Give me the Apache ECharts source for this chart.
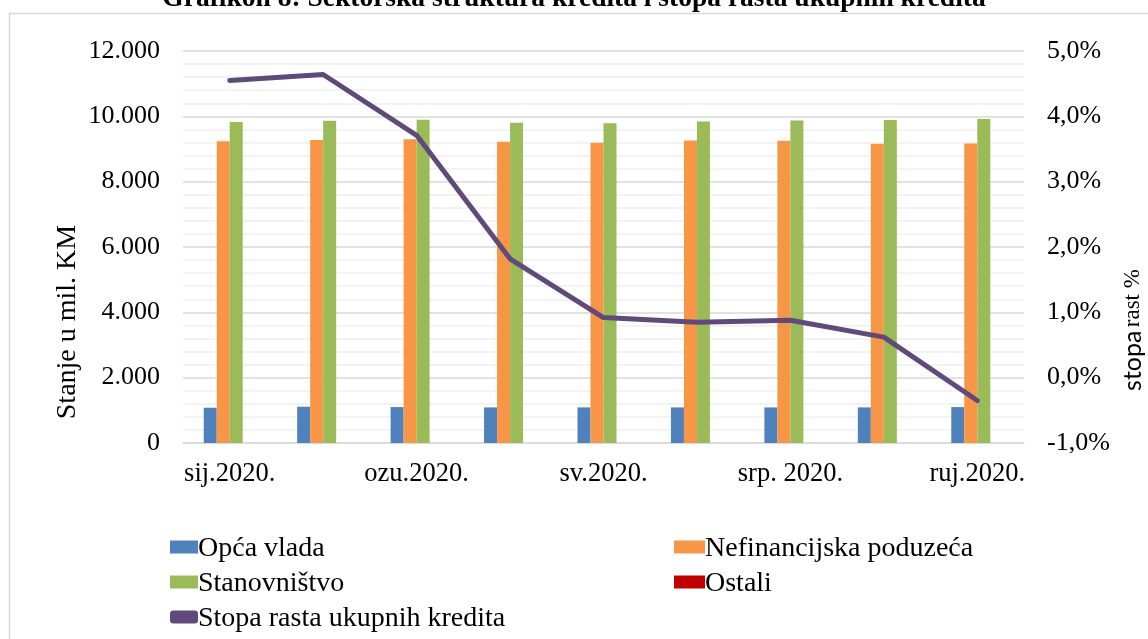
<!DOCTYPE html>
<html lang="hr">
<head>
<meta charset="utf-8" />
<title>Grafikon 8</title>
<script src="https://cdn.jsdelivr.net/npm/echarts@6/dist/echarts.min.js"></script>
<style>
  html, body { margin: 0; padding: 0; background: #fff; }
  #main { width: 1148px; height: 639px; }
</style>
</head>
<body>
<div id="main"></div>
<script>
// mjeseci (svaki drugi je prikazan na osi)
var months = ['sij.2020.', 'velj.2020.', 'ozu.2020.', 'tra.2020.', 'sv.2020.',
              'lip.2020.', 'srp. 2020.', 'kol.2020.', 'ruj.2020.'];
// stanje kredita u mil. KM
var opcaVlada = [1080, 1110, 1100, 1090, 1090, 1090, 1090, 1090, 1100];
var nefinancijska = [9240, 9275, 9300, 9220, 9190, 9260, 9255, 9160, 9165];
var stanovnistvo = [9830, 9865, 9895, 9800, 9790, 9840, 9870, 9885, 9915];
var ostali = [0, 0, 0, 0, 0, 0, 0, 0, 0];
// stopa rasta ukupnih kredita, %
var stopaRasta = [4.55, 4.64, 3.71, 1.82, 0.92, 0.85, 0.88, 0.62, -0.35];

var seriesNames = ['Opća vlada', 'Nefinancijska poduzeća', 'Stanovništvo', 'Ostali',
                   'Stopa rasta ukupnih kredita'];

var serif = 'Liberation Serif';

var chart = echarts.init(document.getElementById('main'));

function barSeries(i, data, color) {
  return {
    name: seriesNames[i],
    type: 'bar',
    data: data,
    barWidth: 13,
    barGap: '0%',
    itemStyle: { color: color },
    z: 2
  };
}

// legenda: ikone iz echartsa, tekst kao graphic
var legendPos = [
  [170, 547], [674, 547], [170, 582], [674, 582], [170, 617]
];
var legends = [], legendLabels = [];
legendPos.forEach(function (p, i) {
  var isLine = i === 4;
  var w = p[0] > 600 ? 31 : 28;
  legends.push({
    left: p[0],
    top: p[1] - 6.5,
    padding: 0,
    itemWidth: w,
    itemHeight: 13,
    icon: isLine ? 'roundRect' : 'rect',
    formatter: function () { return ''; },
    data: [seriesNames[i]]
  });
  legendLabels.push({
    type: 'text',
    x: p[0] + w,
    y: p[1] + 1.5,
    style: {
      text: seriesNames[i],
      font: '28px "Liberation Serif"',
      fill: '#000',
      verticalAlign: 'middle'
    }
  });
});

var option = {
  backgroundColor: '#fff',
  animation: false,
  textStyle: { fontFamily: serif },
  graphic: [
    {
      type: 'text',
      left: 'center',
      top: -15,
      z: -2,
      style: {
        text: 'Grafikon 8: Sektorska struktura kredita i stopa rasta ukupnih kredita',
        font: 'bold 27.5px "Liberation Serif"',
        fill: '#000'
      }
    },
    {
      type: 'rect',
      z: -1,
      shape: { x: 9.5, y: 13.5, width: 1200, height: 700 },
      style: { fill: '#fff', stroke: '#D9D9D9', lineWidth: 1.5 }
    },
    {
      type: 'text',
      x: 68, y: 322,
      rotation: Math.PI / 2,
      style: {
        text: 'Stanje u mil. KM',
        font: '28px "Liberation Serif"',
        fill: '#000',
        align: 'center',
        verticalAlign: 'middle'
      }
    },
    {
      type: 'text',
      x: 1133, y: 330,
      rotation: Math.PI / 2,
      style: {
        text: '{a|stopa} {b|rast %}',
        align: 'center',
        verticalAlign: 'middle',
        rich: {
          a: { fontFamily: 'Lato', fontSize: 25, fill: '#000' },
          b: { fontFamily: serif, fontSize: 23, fill: '#000' }
        }
      }
    }
  ].concat(legendLabels),
  grid: { left: 183, right: 124, top: 51, bottom: 196 },
  legend: legends,
  xAxis: {
    type: 'category',
    data: months,
    axisLine: { lineStyle: { color: '#D9D9D9', width: 1.5 } },
    axisTick: { show: false },
    axisLabel: {
      interval: 1,
      margin: 18,
      fontFamily: serif,
      fontSize: 26.5,
      color: '#000'
    }
  },
  yAxis: [
    {
      type: 'value',
      min: 0,
      max: 12000,
      interval: 2000,
      axisLine: { show: false },
      axisTick: { show: false },
      minorTick: { show: false, splitNumber: 5 },
      minorSplitLine: { show: true, lineStyle: { color: '#F0F0F0', width: 1.5 } },
      splitLine: { lineStyle: { color: '#D9D9D9', width: 1.5 } },
      axisLabel: {
        margin: 23,
        fontFamily: serif,
        fontSize: 26,
        color: '#000',
        formatter: function (v) {
          return String(v).replace(/\B(?=(\d{3})+(?!\d))/g, '.');
        }
      }
    },
    {
      type: 'value',
      min: -1,
      max: 5,
      interval: 1,
      position: 'right',
      axisLine: { show: false },
      axisTick: { show: false },
      splitLine: { show: false },
      axisLabel: {
        margin: 23,
        fontFamily: serif,
        fontSize: 26,
        color: '#000',
        formatter: function (v) {
          return v.toFixed(1).replace('.', ',') + '%';
        }
      }
    }
  ],
  series: [
    barSeries(0, opcaVlada, '#4F81BD'),
    barSeries(1, nefinancijska, '#F79646'),
    barSeries(2, stanovnistvo, '#9BBB59'),
    barSeries(3, ostali, '#C00000'),
    {
      name: seriesNames[4],
      type: 'line',
      yAxisIndex: 1,
      data: stopaRasta,
      symbol: 'none',
      z: 5,
      lineStyle: { color: '#604A7B', width: 5, cap: 'round', join: 'round' },
      itemStyle: { color: '#604A7B' }
    }
  ]
};

chart.setOption(option);
window.onresize = function () {
  chart.resize();
};
</script>
</body>
</html>
